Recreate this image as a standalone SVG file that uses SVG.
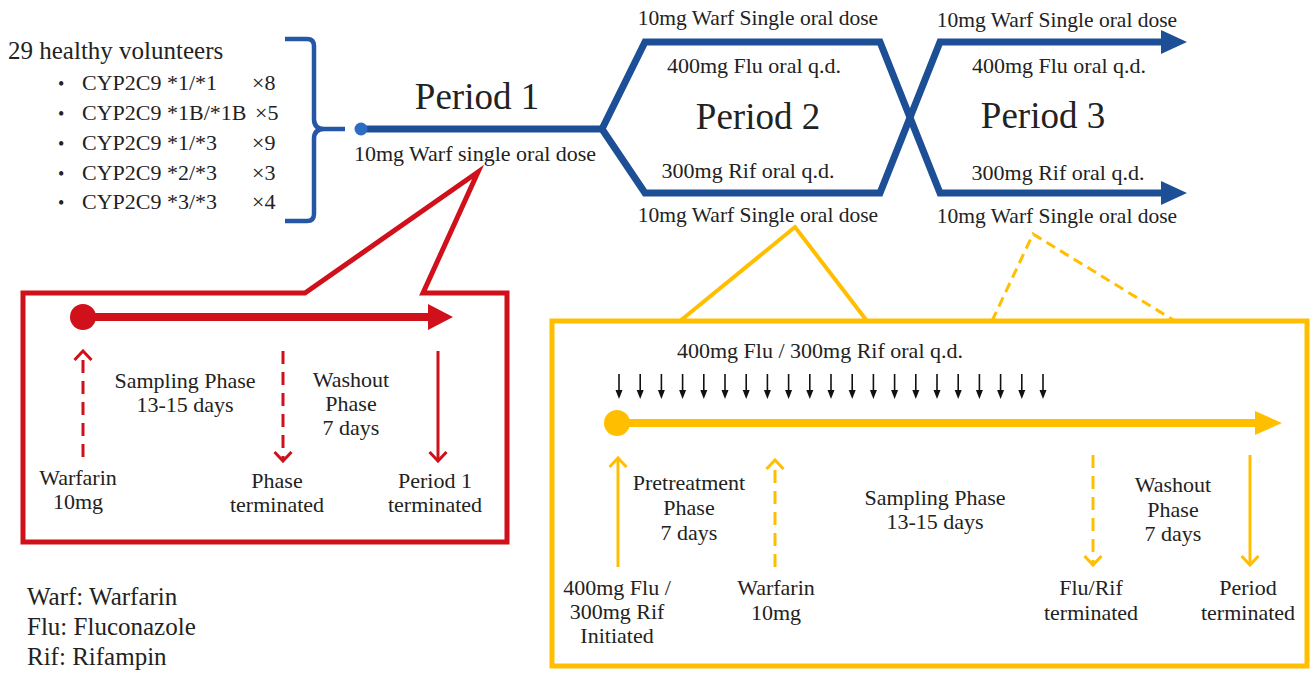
<svg xmlns="http://www.w3.org/2000/svg" xmlns:xlink="http://www.w3.org/1999/xlink" width="1312" height="676" viewBox="0 0 1312 676">
<style>
text{font-family:"Liberation Serif","Times New Roman",serif;fill:#222;}
.s22{font-size:22px;}
.s21{font-size:21.5px;}
.big{font-size:37px;}
.mid{text-anchor:middle;}
.blue{fill:none;stroke:#1c4f96;stroke-width:7;stroke-linejoin:miter;}
.red{fill:none;stroke:#d0101a;}
.yel{fill:none;stroke:#ffbf00;}
</style>
<defs>
<marker id="chevR" markerUnits="userSpaceOnUse" viewBox="0 0 12 20" refX="10" refY="10" markerWidth="12" markerHeight="20" orient="auto">
<path d="M1,1.5 L10,10 L1,18.5" fill="none" stroke="#d0101a" stroke-width="3"/>
</marker>
<marker id="chevY" markerUnits="userSpaceOnUse" viewBox="0 0 12 20" refX="10" refY="10" markerWidth="12" markerHeight="20" orient="auto">
<path d="M1,1.5 L10,10 L1,18.5" fill="none" stroke="#ffbf00" stroke-width="3"/>
</marker>
<g id="darr">
<line x1="0" y1="374" x2="0" y2="392" stroke="#111" stroke-width="1.6"/>
<path d="M-3.5,390 L0,399 L3.5,390 Z" fill="#111"/>
</g>
</defs>
<rect width="1312" height="676" fill="#fff"/>

<g id="volunteers">
<text x="8" y="59" style="font-size:25px">29 healthy volunteers</text>
<g class="s22">
<text x="58" y="90" style="font-size:18px">•</text><text x="82" y="90">CYP2C9 *1/*1</text><text x="252" y="90">×8</text>
<text x="58" y="120" style="font-size:18px">•</text><text x="82" y="120">CYP2C9 *1B/*1B</text><text x="255" y="120">×5</text>
<text x="58" y="150" style="font-size:18px">•</text><text x="82" y="150">CYP2C9 *1/*3</text><text x="252" y="150">×9</text>
<text x="58" y="180" style="font-size:18px">•</text><text x="82" y="180">CYP2C9 *2/*3</text><text x="252" y="180">×3</text>
<text x="58" y="209" style="font-size:18px">•</text><text x="82" y="209">CYP2C9 *3/*3</text><text x="252" y="209">×4</text>
</g>
<path d="M285,39 L307,39 Q314,39 314,46 L314,119 Q314,129 324,129 L345,129 M324,129 Q314,129 314,139 L314,214 Q314,221 307,221 L285,221" fill="none" stroke="#2557a7" stroke-width="4.5"/>
</g>

<g id="connectors">
<path class="blue" d="M360,129 L602,129"/>
<path class="blue" d="M602,129 L645,42 L880,42 L940,193 L1164,193"/>
<path class="blue" d="M602,129 L645,193 L880,193 L940,42 L1164,42"/>
<polygon points="1161,30 1187,42 1161,54" fill="#1c4f96"/>
<polygon points="1161,181 1187,193 1161,205" fill="#1c4f96"/>
<circle cx="361" cy="129" r="6.5" fill="#2e6cc4"/>
</g>

<g id="period1">
<text class="big mid" x="477" y="109">Period 1</text>
<text class="s22 mid" x="475" y="161">10mg Warf single oral dose</text>
</g>

<g id="period2">
<text class="s21 mid" x="758" y="25">10mg Warf Single oral dose</text>
<text class="s22 mid" x="754" y="73">400mg Flu oral q.d.</text>
<text class="big mid" x="758" y="129">Period 2</text>
<text class="s22 mid" x="748" y="178">300mg Rif oral q.d.</text>
<text class="s21 mid" x="758" y="222">10mg Warf Single oral dose</text>
</g>

<g id="period3">
<text class="s21 mid" x="1057" y="27">10mg Warf Single oral dose</text>
<text class="s22 mid" x="1059" y="73">400mg Flu oral q.d.</text>
<text class="big mid" x="1043" y="128">Period 3</text>
<text class="s22 mid" x="1058" y="180">300mg Rif oral q.d.</text>
<text class="s21 mid" x="1057" y="223">10mg Warf Single oral dose</text>
</g>

<g id="period1-detail">
<path class="red" stroke-width="5" stroke-linejoin="miter" d="M305,293 L478,172 L423,293 L507,293 L507,542 L23,542 L23,293 Z"/>
<line x1="83" y1="317" x2="430" y2="317" stroke="#d0101a" stroke-width="8"/>
<polygon points="428,304 453,317 428,330" fill="#d0101a"/>
<circle cx="83" cy="317" r="13" fill="#d0101a"/>
<line class="red" x1="83" y1="457" x2="83" y2="351" stroke-width="3" stroke-dasharray="13 8" marker-end="url(#chevR)"/>
<line class="red" x1="283" y1="351" x2="283" y2="461" stroke-width="3" stroke-dasharray="13 8" marker-end="url(#chevR)"/>
<line class="red" x1="438" y1="351" x2="438" y2="461" stroke-width="3" marker-end="url(#chevR)"/>
<g class="s22">
<text class="mid" x="185" y="388">Sampling Phase</text>
<text class="mid" x="185" y="412">13-15 days</text>
<text class="mid" x="351" y="387">Washout</text>
<text class="mid" x="351" y="411">Phase</text>
<text class="mid" x="351" y="435">7 days</text>
<text class="mid" x="78" y="485">Warfarin</text>
<text class="mid" x="78" y="509">10mg</text>
<text class="mid" x="277" y="488">Phase</text>
<text class="mid" x="277" y="512">terminated</text>
<text class="mid" x="435" y="488">Period 1</text>
<text class="mid" x="435" y="512">terminated</text>
</g>
</g>

<g id="period23-detail">
<rect class="yel" x="552" y="321" width="755" height="345" stroke-width="5"/>
<polyline class="yel" points="680,321 795,227 867,321" stroke-width="4" stroke-linejoin="miter"/>
<polyline class="yel" points="992,321 1033,234 1175,321" stroke-width="3" stroke-dasharray="10 6"/>
<text class="s22 mid" x="820" y="358">400mg Flu / 300mg Rif oral q.d.</text>
<use xlink:href="#darr" x="619"/><use xlink:href="#darr" x="640.2"/><use xlink:href="#darr" x="661.4"/><use xlink:href="#darr" x="682.6"/><use xlink:href="#darr" x="703.8"/><use xlink:href="#darr" x="725"/><use xlink:href="#darr" x="746.2"/><use xlink:href="#darr" x="767.4"/><use xlink:href="#darr" x="788.6"/><use xlink:href="#darr" x="809.8"/><use xlink:href="#darr" x="831"/><use xlink:href="#darr" x="852.2"/><use xlink:href="#darr" x="873.4"/><use xlink:href="#darr" x="894.6"/><use xlink:href="#darr" x="915.8"/><use xlink:href="#darr" x="937"/><use xlink:href="#darr" x="958.2"/><use xlink:href="#darr" x="979.4"/><use xlink:href="#darr" x="1000.6"/><use xlink:href="#darr" x="1021.8"/><use xlink:href="#darr" x="1043"/>
<line x1="617" y1="423" x2="1258" y2="423" stroke="#ffbf00" stroke-width="8"/>
<polygon points="1255,411 1282,423 1255,435" fill="#ffbf00"/>
<circle cx="617" cy="423" r="13" fill="#ffbf00"/>
<line class="yel" x1="618" y1="567" x2="618" y2="458" stroke-width="3" marker-end="url(#chevY)"/>
<line class="yel" x1="775" y1="567" x2="775" y2="460" stroke-width="3" stroke-dasharray="13 8" marker-end="url(#chevY)"/>
<line class="yel" x1="1093" y1="455" x2="1093" y2="565" stroke-width="3" stroke-dasharray="13 8" marker-end="url(#chevY)"/>
<line class="yel" x1="1250" y1="455" x2="1250" y2="565" stroke-width="3" marker-end="url(#chevY)"/>
<g class="s22">
<text class="mid" x="689" y="490">Pretreatment</text>
<text class="mid" x="689" y="515">Phase</text>
<text class="mid" x="689" y="540">7 days</text>
<text class="mid" x="617" y="595">400mg Flu /</text>
<text class="mid" x="617" y="619">300mg Rif</text>
<text class="mid" x="617" y="643">Initiated</text>
<text class="mid" x="776" y="595">Warfarin</text>
<text class="mid" x="776" y="620">10mg</text>
<text class="mid" x="935" y="505">Sampling Phase</text>
<text class="mid" x="935" y="529">13-15 days</text>
<text class="mid" x="1173" y="492">Washout</text>
<text class="mid" x="1173" y="517">Phase</text>
<text class="mid" x="1173" y="541">7 days</text>
<text class="mid" x="1091" y="595">Flu/Rif</text>
<text class="mid" x="1091" y="620">terminated</text>
<text class="mid" x="1248" y="595">Period</text>
<text class="mid" x="1248" y="620">terminated</text>
</g>
</g>

<g id="legend" style="font-size:25px">
<text x="27" y="605">Warf: Warfarin</text>
<text x="27" y="635">Flu: Fluconazole</text>
<text x="27" y="665">Rif: Rifampin</text>
</g>
</svg>
